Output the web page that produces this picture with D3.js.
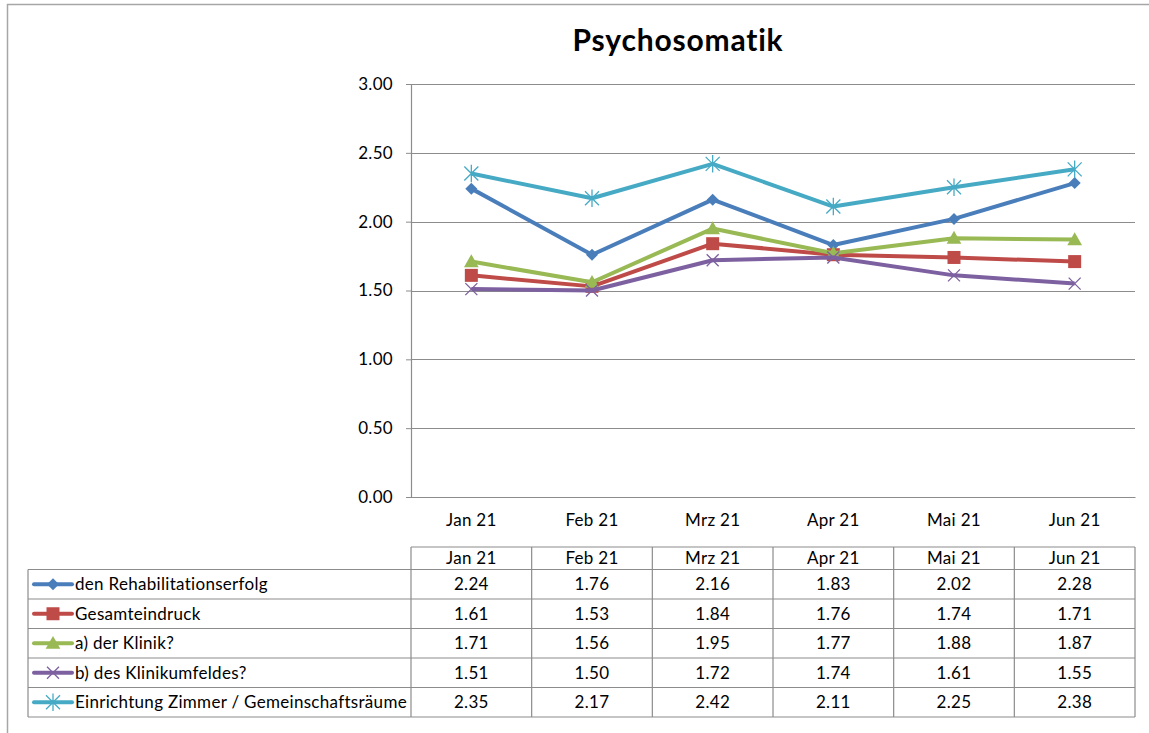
<!DOCTYPE html>
<html>
<head>
<meta charset="utf-8">
<script src="https://cdn.jsdelivr.net/npm/d3@7"></script>
<style>
  body { margin: 0; background: #fff; }
  text { font-family: Lato, "Open Sans", sans-serif; fill: #000; letter-spacing: 0.3px; }
</style>
</head>
<body>
<svg id="chart" width="1149" height="733"></svg>
<script>
// data
const months = ["Jan 21", "Feb 21", "Mrz 21", "Apr 21", "Mai 21", "Jun 21"];
const seriesNames = [
  "den Rehabilitationserfolg",
  "Gesamteindruck",
  "a) der Klinik?",
  "b) des Klinikumfeldes?",
  "Einrichtung Zimmer / Gemeinschaftsräume"
];
const rehab = [2.24, 1.76, 2.16, 1.83, 2.02, 2.28];
const gesamt = [1.61, 1.53, 1.84, 1.76, 1.74, 1.71];
const klinik = [1.71, 1.56, 1.95, 1.77, 1.88, 1.87];
const umfeld = [1.51, 1.50, 1.72, 1.74, 1.61, 1.55];
const zimmer = [2.35, 2.17, 2.42, 2.11, 2.25, 2.38];
const yTicks = [0, 0.5, 1, 1.5, 2, 2.5, 3];

const colors = ["#4a7ebb", "#be4b48", "#98b954", "#7d60a0", "#46aac5"];
const markers = ["diamond", "square", "triangle", "x", "star"];
const series = [rehab, gesamt, klinik, umfeld, zimmer].map((v, i) => ({
  name: seriesNames[i], values: v, color: colors[i], marker: markers[i]
}));

const fs = "17px";
const svg = d3.select("#chart");

// outer frame (runs past the window on right / bottom)
svg.append("rect")
  .attr("x", 7.5).attr("y", 4.5)
  .attr("width", 1160).attr("height", 760)
  .attr("fill", "none").attr("stroke", "#a6a6a6").attr("stroke-width", 1.5);

const plot = { left: 411, right: 1135, top: 84, bottom: 497 };

const x = d3.scaleBand().domain(months).range([plot.left, plot.right]);
const y = d3.scaleLinear().domain([0, 3]).range([plot.bottom, plot.top]);

// title
svg.append("text")
  .attr("x", 678).attr("y", 51)
  .attr("text-anchor", "middle")
  .style("font-size", "30px").style("font-weight", "bold")
  .style("letter-spacing", "0.8px")
  .text("Psychosomatik");

// gridlines
svg.append("g").selectAll("line")
  .data(yTicks.filter(d => d > 0))
  .join("line")
  .attr("x1", plot.left).attr("x2", plot.right)
  .attr("y1", d => Math.round(y(d)) + 0.5).attr("y2", d => Math.round(y(d)) + 0.5)
  .attr("stroke", "#8c8c8c").attr("stroke-width", 1.2);

// y axis
const yAxis = svg.append("g")
  .attr("transform", `translate(${plot.left},0)`)
  .call(d3.axisLeft(y).tickValues(yTicks).tickFormat(d3.format(".2f")).tickSize(5).tickPadding(13));
yAxis.select(".domain").attr("stroke", "#8c8c8c").attr("stroke-width", 1.2);
yAxis.selectAll(".tick line").attr("stroke", "#8c8c8c");
yAxis.selectAll("text").style("font-size", fs);

// x axis
const xAxis = svg.append("g")
  .attr("transform", `translate(0,${plot.bottom})`)
  .call(d3.axisBottom(x).tickSize(0).tickPadding(17));
xAxis.select(".domain").attr("stroke", "#8c8c8c").attr("stroke-width", 1.2);
xAxis.selectAll("text").style("font-size", fs);

function markerPath(type, s) {
  switch (type) {
    case "diamond": return `M0,${-s}L${s},0L0,${s}L${-s},0Z`;
    case "square": return `M${-s},${-s}H${s}V${s}H${-s}Z`;
    case "triangle": return `M0,${-s * 1.05}L${s * 1.05},${s * 0.8}L${-s * 1.05},${s * 0.8}Z`;
    case "x": return `M${-s},${-s}L${s},${s}M${-s},${s}L${s},${-s}`;
    case "star": return `M${-s},${-s}L${s},${s}M${-s},${s}L${s},${-s}M0,${-s * 1.25}V${s * 1.25}`;
  }
}
const markerSize = { diamond: 6, square: 6.5, triangle: 7, x: 6, star: 7 };
function drawMarker(g, type, color) {
  const filled = type !== "x" && type !== "star";
  g.append("path")
    .attr("d", markerPath(type, markerSize[type]))
    .attr("fill", filled ? color : "none")
    .attr("stroke", color)
    .attr("stroke-width", filled ? 0 : 1.3);
}

const line = d3.line()
  .x((d, i) => x(months[i]) + x.bandwidth() / 2)
  .y(d => y(d));

const sg = svg.append("g").selectAll("g")
  .data(series)
  .join("g");

sg.append("path")
  .attr("d", d => line(d.values))
  .attr("fill", "none")
  .attr("stroke", d => d.color)
  .attr("stroke-width", 4)
  .attr("stroke-linejoin", "round");

sg.each(function (s) {
  const grp = d3.select(this);
  s.values.forEach((v, i) => {
    const m = grp.append("g")
      .attr("transform", `translate(${x(months[i]) + x.bandwidth() / 2},${y(v)})`);
    drawMarker(m, s.marker, s.color);
  });
});

// data table
const table = { left: 28, headerTop: 547, headerH: 22.5, rowH: 29.5 };
const tg = svg.append("g");
const rowTop = i => table.headerTop + table.headerH + i * table.rowH;
const tableBottom = rowTop(series.length);
const gridColor = "#8c8c8c";

// header row cells
tg.append("line")
  .attr("x1", plot.left).attr("x2", plot.right)
  .attr("y1", table.headerTop).attr("y2", table.headerTop)
  .attr("stroke", gridColor).attr("stroke-width", 1.2);
// horizontal row lines
tg.selectAll("line.row")
  .data(d3.range(series.length + 1))
  .join("line").attr("class", "row")
  .attr("x1", table.left).attr("x2", plot.right)
  .attr("y1", d => rowTop(d)).attr("y2", d => rowTop(d))
  .attr("stroke", gridColor).attr("stroke-width", 1.2);
// vertical lines
const vx = months.map(m => x(m)).concat([plot.right]);
tg.selectAll("line.col")
  .data(vx)
  .join("line").attr("class", "col")
  .attr("x1", d => d).attr("x2", d => d)
  .attr("y1", table.headerTop).attr("y2", tableBottom)
  .attr("stroke", gridColor).attr("stroke-width", 1.2);
tg.append("line")
  .attr("x1", table.left).attr("x2", table.left)
  .attr("y1", rowTop(0)).attr("y2", tableBottom)
  .attr("stroke", gridColor).attr("stroke-width", 1.2);

// header labels
tg.selectAll("text.head")
  .data(months)
  .join("text").attr("class", "head")
  .attr("x", d => x(d) + x.bandwidth() / 2)
  .attr("y", table.headerTop + table.headerH / 2)
  .attr("dy", "0.35em")
  .attr("text-anchor", "middle")
  .style("font-size", fs)
  .text(d => d);

// rows
series.forEach((s, r) => {
  const cy = rowTop(r) + table.rowH / 2;
  // legend key
  const key = tg.append("g");
  key.append("line")
    .attr("x1", 34).attr("x2", 72)
    .attr("y1", cy).attr("y2", cy)
    .attr("stroke", s.color).attr("stroke-width", 4)
    .attr("stroke-linecap", "round");
  const km = key.append("g").attr("transform", `translate(53,${cy})`);
  drawMarker(km, s.marker, s.color);
  tg.append("text")
    .attr("x", 75).attr("y", cy).attr("dy", "0.35em")
    .style("font-size", fs)
    .text(s.name);
  tg.selectAll(null)
    .data(s.values)
    .join("text")
    .attr("x", (d, i) => x(months[i]) + x.bandwidth() / 2)
    .attr("y", cy).attr("dy", "0.35em")
    .attr("text-anchor", "middle")
    .style("font-size", fs)
    .text(d => d.toFixed(2));
});
</script>
</body>
</html>
